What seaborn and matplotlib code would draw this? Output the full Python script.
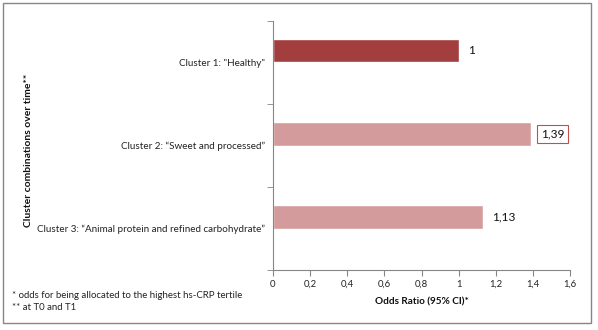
import matplotlib
matplotlib.use("Agg")
import matplotlib.pyplot as plt
import seaborn as sns
import pandas as pd
from matplotlib.patches import Rectangle

categories = ['Cluster 1: "Healthy"',
              'Cluster 2: \u201cSweet and processed\u201d',
              'Cluster 3: \u201cAnimal protein and refined carbohydrate\u201d']
odds_ratios = [1.0, 1.39, 1.13]
bar_colors = ["#A23E3D", "#D49B9C", "#D49B9C"]
x_ticks = [0, 0.2, 0.4, 0.6, 0.8, 1.0, 1.2, 1.4, 1.6]
x_label = "Odds Ratio (95% CI)*"
y_label = "Cluster combinations over time**"
footnotes = ["* odds for being allocated to the highest hs-CRP tertile",
             "** at T0 and T1"]

sns.set_style("white")
plt.rcParams['font.family'] = ['Lato', 'DejaVu Sans']

df = pd.DataFrame({"cat": categories, "or": odds_ratios})

fig = plt.figure(figsize=(5.98, 3.30), dpi=100)
ax = fig.add_axes([273/598, 1-270/330, (570-273)/598, (270-21)/330])

sns.barplot(data=df, y="cat", x="or", hue="cat", palette=bar_colors,
            orient="h", width=0.28, legend=False, ax=ax, saturation=1)

off = 0.14
n = len(categories)
ax.set_ylim(n - 0.5 + off, -0.5 + off)
ax.set_yticks([i + off for i in range(n)])
ax.set_yticklabels(categories, fontsize=7.1, color="#222222")
ax.tick_params(axis="y", length=0, pad=6)
ax.set_yticks([i - 0.5 + off for i in range(n + 1)], minor=True)
ax.tick_params(axis="y", which="minor", length=4, color="#868686", direction="out", left=True)

ax.set_xlim(0, 1.6)
ax.set_xticks(x_ticks)
ax.set_xticklabels([f"{v:g}".replace(".", ",") for v in x_ticks], fontsize=6.8, color="#222222")
ax.tick_params(axis="x", length=4, color="#868686", direction="out", bottom=True, pad=3)

for s in ["top", "right"]:
    ax.spines[s].set_visible(False)
for s in ["left", "bottom"]:
    ax.spines[s].set_color("#868686")
    ax.spines[s].set_linewidth(0.8)

ax.set_xlabel(x_label, fontsize=7.2, fontweight="bold", labelpad=6, color="#111111")
ax.set_ylabel("")
fig.text(29/598, 1-150/330, y_label, rotation=90, fontsize=7.5, fontweight="bold",
         ha="center", va="center", color="#111111")

texts = []
for cont in ax.containers:
    texts += ax.bar_label(cont, fmt=lambda v: f"{v:g}".replace(".", ","),
                          padding=7, fontsize=8.6, color="#111111")
for t in texts:
    if t.get_text() == "1,39":
        t.set_bbox(dict(boxstyle="square,pad=0.3", facecolor="white", edgecolor="#C0504D", linewidth=0.8))

fig.text(12/598, 1-295/330, footnotes[0], fontsize=6.9, va="center", color="#222222")
fig.text(12/598, 1-308/330, footnotes[1], fontsize=6.9, va="center", color="#222222")

fig.patches.append(Rectangle((3/598, 1-323/330), 588/598, 320/330, transform=fig.transFigure,
                             fill=False, edgecolor="#868686", linewidth=1))

fig.savefig("out.png", dpi=100)
